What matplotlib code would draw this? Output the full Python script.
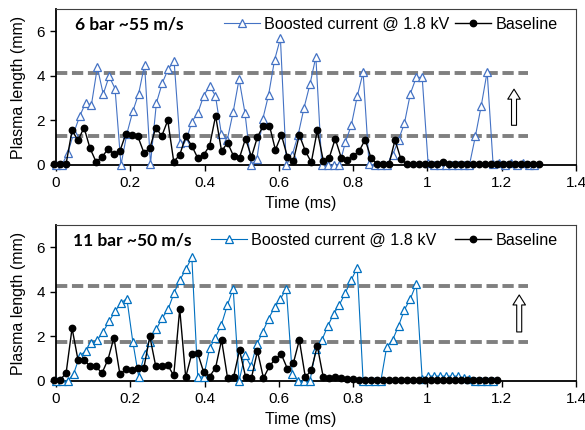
import numpy as np
import matplotlib
matplotlib.use("Agg")
import matplotlib.pyplot as plt

plt.rcParams['font.family'] = ['Liberation Sans', 'DejaVu Sans']

# frame timing (ms)
base_t0, base_dt = -0.005, 0.0161
boost_t0, boost_dt = 0.0, 0.0159

# 6 bar case
boost_6bar = [0, 0, 0.53, 1.43, 2.18, 2.78, 2.7, 4.38, 3.18, 3.98,
              3.42, 0.0, 1.4, 2.4, 3.2, 4.5, 0.05, 2.78, 3.68, 4.3,
              4.65, 1.0, 1.05, 1.95, 2.32, 3.1, 3.55, 3.1, 1.4, 1.13,
              2.38, 3.85, 2.33, 0.0, 0.25, 2.05, 3.15, 4.7, 5.68, 0.0,
              0.45, 1.35, 2.57, 3.62, 4.85, 0, 0, 0, 0, 1.03,
              1.78, 3.08, 4.15, 0.05, 0, 0, 0, 0.45, 1.13, 1.88,
              3.2, 3.93, 3.93, 0.08, 0, 0, 0, 0, 0, 0,
              0, 1.28, 2.66, 4.18, 0.05, 0.1, 0, 0.1, 0, 0.1,
              0, 0]
base_6bar = [0.05, 0.05, 0.05, 1.55, 1.1, 1.68, 0.75, 0.15, 0.35, 0.72,
             0.5, 0.63, 1.4, 1.35, 1.28, 0.56, 0.74, 1.68, 1.3, 2.0,
             0.15, 0.45, 1.28, 0.87, 0.32, 0.45, 0.87, 2.2, 0.62, 1.0,
             0.4, 0.33, 1.18, 0.37, 1.26, 1.77, 1.77, 0.68, 1.35, 0.37,
             0.2, 1.35, 0.63, 0.12, 1.55, 0.2, 0.32, 1.18, 0.33, 0.22,
             0.42, 0.62, 1.14, 0.3, 0.05, 0.05, 0.05, 1.12, 0.25, 0.05,
             0.05, 0.05, 0.05, 0.05, 0.05, 0.15, 0.05, 0.05, 0.05, 0.05,
             0.05, 0.05, 0.05, 0.05, 0.05, 0.05, 0.05, 0.05, 0.05, 0.05,
             0.05, 0.05]

# 11 bar case
boost_11bar = [0, 0, 0, 0.33, 1.11, 1.35, 1.69, 1.84, 2.22, 2.67,
               3.13, 3.5, 3.7, 1.77, 0.2, 1.2, 1.77, 2.33, 2.83, 3.23,
               3.96, 4.54, 5.02, 5.55, 0.18, 0.18, 1.46, 1.95, 2.52, 3.39,
               4.14, 0.0, 1.16, 0.66, 1.64, 2.2, 2.8, 3.3, 3.68, 4.14,
               0.3, 0, 0, 0, 1.42, 1.82, 2.46, 3.0, 3.43, 3.96,
               4.54, 5.08, 0, 0, 0, 0, 1.54, 1.84, 2.48, 3.2,
               3.69, 4.35, 0.1, 0.22, 0.22, 0.22, 0.22, 0.22, 0.22, 0.12,
               0.1, 0, 0, 0, 0]
base_11bar = [0.05, 0.05, 0.35, 2.37, 0.93, 0.93, 0.68, 0.65, 0.35, 0.96,
              1.95, 0.3, 0.52, 0.5, 0.6, 0.58, 2.0, 0.65, 0.65, 0.7,
              0.25, 3.23, 0.17, 1.2, 1.25, 0.4, 0.2, 0.6, 1.84, 0.13,
              0.17, 1.39, 0.2, 0.15, 1.34, 0.13, 0.66, 1.0, 1.19, 0.55,
              0.8, 1.84, 0.17, 0.48, 1.57, 0.17, 0.15, 0.17, 0.15, 0.1,
              0.1, 0.05, 0.05, 0.05, 0.05, 0.05, 0.05, 0.05, 0.05, 0.05,
              0.05, 0.05, 0.05, 0.05, 0.05, 0.05, 0.05, 0.05, 0.05, 0.05,
              0.05, 0.05, 0.05, 0.05, 0.05]

panel_titles = ['6 bar ~55 m/s', '11 bar ~50 m/s']
dash_levels = [(4.13, 1.28), (4.26, 1.76)]
arrow_spans = [(1.233, 1.78, 3.4), (1.247, 2.2, 3.86)]
boost_colors = ['#4472C4', '#0070C0']
xticks = [0, 0.2, 0.4, 0.6, 0.8, 1.0, 1.2, 1.4]
xtick_labels = ['0', '0.2', '0.4', '0.6', '0.8', '1', '1.2', '1.4']

fig = plt.figure(figsize=(5.85, 4.30), dpi=100)
axes = [fig.add_axes([0.0957, 0.6163, 0.889, 0.363]),
        fig.add_axes([0.0957, 0.1140, 0.889, 0.3628])]

datasets = [(boost_6bar, base_6bar), (boost_11bar, base_11bar)]

for i, ax in enumerate(axes):
    boost, base = datasets[i]
    tb = boost_t0 + boost_dt * np.arange(len(boost))
    tr = base_t0 + base_dt * np.arange(len(base))

    for lvl in dash_levels[i]:
        ax.hlines(lvl, 0, 1.27, colors='#808080', lw=2.8,
                  linestyles=(0, (2.9, 1.2)), zorder=1)

    ax.plot(tb, boost, color=boost_colors[i], lw=0.8, marker='^', ms=6.2,
            mfc='white', mec=boost_colors[i], mew=0.9, clip_on=False,
            zorder=3, label='Boosted current @ 1.8 kV')
    ax.plot(tr, base, color='black', lw=1.0, marker='o', ms=4.6,
            clip_on=False, zorder=4, label='Baseline')

    x, y0, y1 = arrow_spans[i]
    ax.annotate('', xy=(x, y1), xytext=(x, y0),
                arrowprops=dict(arrowstyle='simple,head_width=0.75,head_length=0.6,tail_width=0.3',
                                fc='white', ec='black', lw=0.8, mutation_scale=12,
                                shrinkA=0, shrinkB=0))

    ax.set_xlim(0, 1.4)
    ax.set_ylim(0, 7)
    ax.set_xticks(xticks)
    ax.set_xticklabels(xtick_labels)
    ax.set_yticks([0, 2, 4, 6])
    ax.tick_params(labelsize=11, length=4, width=1, pad=4)
    ax.set_xlabel('Time (ms)', fontsize=11.5, labelpad=0)
    ax.set_ylabel('Plasma length (mm)', fontsize=11.5)
    ax.xaxis.set_label_coords(0.47, -0.2)
    ax.yaxis.set_label_coords(-0.058, 0.5)

    for side in ['left', 'bottom']:
        ax.spines[side].set_linewidth(1.3)
    for side in ['top', 'right']:
        ax.spines[side].set_linewidth(0.8)
        ax.spines[side].set_color('#404040')

    ax.text(0.036 if i == 0 else 0.032, 0.9, panel_titles[i], transform=ax.transAxes,
            fontsize=12.5, fontweight='bold', family='Lato', va='center')

    ax.legend(loc='center right', bbox_to_anchor=(0.977, 0.9), ncol=2,
              frameon=False, fontsize=11.6, handlelength=2.2, handletextpad=0.3,
              columnspacing=0.35 if i == 0 else 1.15, borderaxespad=0)

fig.savefig('out.png', dpi=100)
